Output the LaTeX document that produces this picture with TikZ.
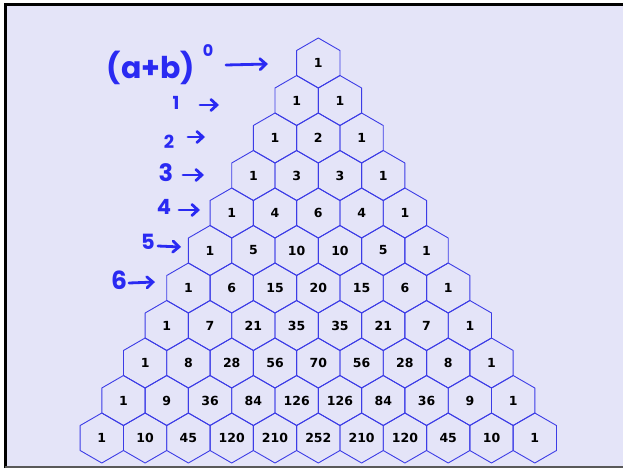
\documentclass[tikz,border=0pt]{standalone}
\usepackage{fontspec}
\setmainfont{DejaVu Sans}
\newfontfamily\handfont{Poppins}
\usetikzlibrary{arrows.meta}
\definecolor{bgl}{HTML}{E4E4F8}
\definecolor{hexblue}{HTML}{3C3CE6}
\definecolor{penblue}{HTML}{2A2AF2}
\begin{document}
\begin{tikzpicture}[x=1pt,y=-1pt,
  num/.style={font=\bfseries\fontsize{12.5}{12.5}\selectfont, inner sep=0pt, text=black},
  hexline/.style={draw=hexblue, line width=0.9pt, line join=round},
  pen/.style={text=penblue, inner sep=0pt},
  penarrow/.style={draw=penblue, line width=2.8pt, line cap=round, line join=round,
    -{Straight Barb[length=6pt,width=11pt,line cap=round]}}]
\useasboundingbox (0,0) rectangle (623,468);
\fill[white] (0,0) rectangle (623,468);
\fill[bgl] (5,5) rectangle (623,467);
\draw[black, line width=3pt] (5,468) -- (5,5) -- (623,5);
\draw[black!65, line width=1.5pt] (5,467) -- (623,467);

\foreach \row [count=\n from 0] in {{1},{1,1},{1,2,1},{1,3,3,1},{1,4,6,4,1},{1,5,10,10,5,1},{1,6,15,20,15,6,1},{1,7,21,35,35,21,7,1},{1,8,28,56,70,56,28,8,1},{1,9,36,84,126,126,84,36,9,1},{1,10,45,120,210,252,210,120,45,10,1}}{
  \foreach \v [count=\k from 0] in \row {
    \node[num] (c\n-\k) at ({318.3+(\k-\n/2)*43.3},{63+37.5*\n}) {\v};
    \draw[hexline] (c\n-\k.center) +(90:25) -- +(30:25) -- +(-30:25) -- +(-90:25) -- +(-150:25) -- +(150:25) -- cycle;
  }
}

% handwritten annotations
\node[pen, font=\handfont\bfseries\fontsize{30}{30}\selectfont] (ab) at (151,68) {(a+b)};
\node[pen, font=\handfont\bfseries\fontsize{16}{16}\selectfont] (e0) at (208,51) {0};
\node[pen, font=\handfont\bfseries\fontsize{18}{18}\selectfont] (l1) at (176,103) {1};
\node[pen, font=\handfont\bfseries\fontsize{18}{18}\selectfont] (l2) at (169,142) {2};
\node[pen, font=\handfont\bfseries\fontsize{24}{24}\selectfont] (l3) at (166,173) {3};
\node[pen, font=\handfont\bfseries\fontsize{21}{21}\selectfont] (l4) at (164,207) {4};
\node[pen, font=\handfont\bfseries\fontsize{21}{21}\selectfont] (l5) at (148,242) {5};
\node[pen, font=\handfont\bfseries\fontsize{25}{25}\selectfont] (l6) at (119,280) {6};

\coordinate (s0) at (226,65);  \coordinate (t0) at (268,64);
\coordinate (s1) at (200,105); \coordinate (t1) at (219,105);
\coordinate (s2) at (188,137); \coordinate (t2) at (205,137);
\coordinate (s3) at (183,175); \coordinate (t3) at (204,175);
\coordinate (s4) at (179,210); \coordinate (t4) at (200,210);
\coordinate (s5) at (158,246); \coordinate (t5) at (181,247);
\coordinate (s6) at (129,283); \coordinate (t6) at (155,282);
\foreach \i in {0,...,6} { \draw[penarrow] (s\i) -- (t\i); }
\end{tikzpicture}
\end{document}
